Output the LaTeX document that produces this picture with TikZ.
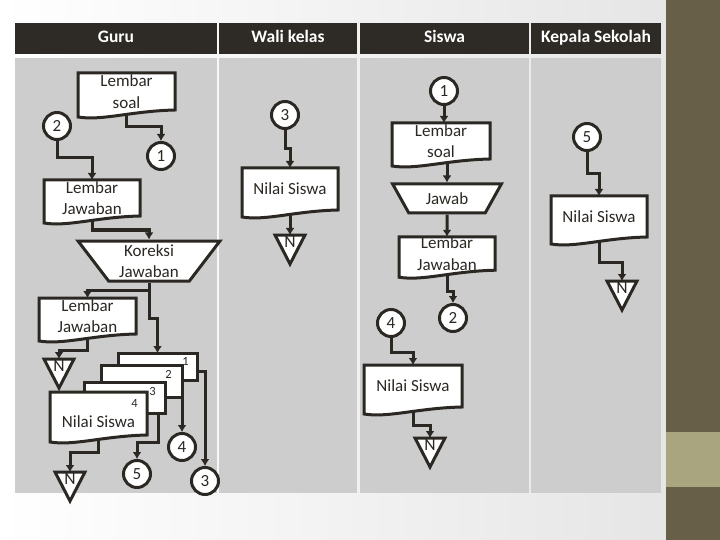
\documentclass[tikz,border=0pt]{standalone}
\usepackage{fontspec}
\setmainfont{Carlito}
\usetikzlibrary{arrows.meta,shapes.geometric,calc}
\definecolor{garistua}{HTML}{2B2823}
\definecolor{kepalabar}{HTML}{2E2A25}
\definecolor{lajurabu}{HTML}{CDCDCD}
\definecolor{pitatua}{HTML}{675F48}
\definecolor{pitamuda}{HTML}{A9A67F}
\pgfdeclarelayer{latar}
\pgfdeclarelayer{garis}
\pgfdeclarelayer{bentuk}
\pgfsetlayers{latar,garis,bentuk,main}
\tikzset{
	judul/.style={
		rectangle,
		fill=kepalabar,
		text=white,
		font=\fontsize{17.5}{21}\selectfont\bfseries,
		minimum height=31pt,
		text height=12.5pt,
		text depth=3.5pt,
		inner sep=0pt
	},
	dokumen/.style={
		rectangle,
		align=center,
		inner sep=0pt,
		outer sep=0pt,
		text=garistua,
		font=\fontsize{17}{21.5}\selectfont
	},
	konektor/.style={
		circle,
		line width=3pt,
		draw=garistua,
		fill=white,
		text=garistua,
		minimum size=27pt,
		inner sep=0pt,
		font=\fontsize{17}{20}\selectfont
	},
	manual/.style={
		trapezium,
		trapezium stretches=true,
		line width=3pt,
		draw=garistua,
		fill=white,
		align=center,
		text=garistua,
		inner sep=0pt,
		font=\fontsize{17}{21.5}\selectfont
	},
	simpan/.style={
		rectangle,
		minimum width=30pt,
		minimum height=29pt,
		inner sep=0pt,
		outer sep=0pt,
		text height=12pt,
		text depth=16pt,
		text=garistua,
		font=\fontsize{17.5}{20}\selectfont
	},
	nomor/.style={
		inner sep=0pt,
		text=garistua,
		font=\fontsize{12.5}{14}\selectfont
	},
	bentuk/.style={
		line width=3pt,
		draw=garistua,
		fill=white
	},
	arrow/.style={
		draw=garistua,
		line width=3pt,
		-{Latex[length=7pt,width=9pt]}
	},
}

\begin{document}
\begin{tikzpicture}[x=1pt,y=-1pt]
	\useasboundingbox (0,0) rectangle (720,540);
	\begin{pgfonlayer}{latar}
		\shade[left color=white,right color=black!10] (0,0) rectangle (666,540);
		\fill[pitatua] (666,0) rectangle (720,540);
		\fill[pitamuda] (666,432) rectangle (720,487);
	\end{pgfonlayer}
	% lajur dan judul
	\foreach \xa/\xb/\nama/\teks in {15/217/guru/Guru,219/357/wali/Wali kelas,360/529/siswa/Siswa,531/661/kepsek/Kepala Sekolah}{
		\begin{pgfonlayer}{latar}
			\fill[lajurabu] (\xa,58) rectangle (\xb,493);
		\end{pgfonlayer}
		\node[judul,minimum width={\xb-\xa}] (h\nama) at ({(\xa+\xb)/2},38.5) {\teks};
	}
	% Guru
	\node[dokumen,minimum width=97pt,minimum height=37pt] (ls1) at (126.5,91.5) {Lembar\\soal};
	\node[konektor] (c2g) at (57,126) {2};
	\node[konektor] (c1g) at (161,156) {1};
	\node[dokumen,minimum width=96pt,minimum height=36pt] (lj1) at (92,198) {Lembar\\Jawaban};
	\node[manual,trapezium left angle=124,trapezium right angle=124,minimum width=142pt,minimum height=40pt] (kj) at (149,261) {Koreksi\\Jawaban};
	\node[dokumen,minimum width=97pt,minimum height=36pt] (lj2) at (87.5,316) {Lembar\\Jawaban};
	\node[simpan] (tg1) at (59,373.5) {N};
	\node[dokumen,minimum width=79pt,minimum height=27pt] (d1) at (157.5,366.5) {};
	\node[dokumen,minimum width=81pt,minimum height=32pt] (d2) at (141.5,381) {};
	\node[dokumen,minimum width=81pt,minimum height=31pt] (d3) at (124.5,397.5) {};
	\node[dokumen,minimum width=97pt,minimum height=43pt,text height=28pt,text depth=0pt] (ns4) at (98.5,413.5) {Nilai Siswa};
	\node[nomor,anchor=north east] (no1) at ([xshift=-8pt,yshift=-4pt]d1.north east) {1};
	\node[nomor,anchor=north east] (no2) at ([xshift=-10pt,yshift=-5pt]d2.north east) {2};
	\node[nomor,anchor=north east] (no3) at ([xshift=-9pt,yshift=-5pt]d3.north east) {3};
	\node[nomor,anchor=north east] (no4) at ([xshift=-9pt,yshift=-7pt]ns4.north east) {4};
	\node[simpan] (tg2) at (70,486.5) {N};
	\node[konektor] (c4g) at (182,447) {4};
	\node[konektor] (c5g) at (137,474) {5};
	\node[konektor] (c3g) at (205,481) {3};
	% Wali kelas
	\node[konektor] (c3w) at (285,115) {3};
	\node[dokumen,minimum width=96pt,minimum height=42pt] (ns1) at (290,189) {Nilai Siswa};
	\node[simpan] (t1) at (290,249.5) {N};
	% Siswa
	\node[konektor] (c1s) at (444,91) {1};
	\node[dokumen,minimum width=98pt,minimum height=36pt] (ls2) at (441,141) {Lembar\\soal};
	\node[manual,trapezium left angle=127,trapezium right angle=127,minimum width=109pt,minimum height=29pt] (jw) at (447,198.5) {Jawab};
	\node[dokumen,minimum width=96pt,minimum height=33pt] (lj3) at (447,253.5) {Lembar\\Jawaban};
	\node[konektor] (c2s) at (453,318) {2};
	\node[konektor] (c4s) at (391,323) {4};
	\node[dokumen,minimum width=98pt,minimum height=42pt] (ns2) at (413,386) {Nilai Siswa};
	\node[simpan] (t2) at (430,452.5) {N};
	% Kepala Sekolah
	\node[konektor] (c5k) at (587,137) {5};
	\node[dokumen,minimum width=96pt,minimum height=41pt] (ns3) at (599,216.5) {Nilai Siswa};
	\node[simpan] (t3) at (622,295.5) {N};
	% bentuk dokumen dan simpanan
	\begin{pgfonlayer}{bentuk}
		\foreach \dk in {d1,d2,d3}
			\filldraw[bentuk] (\dk.north west) rectangle (\dk.south east);
		\foreach \dk in {ls1,lj1,lj2,ns4,ns1,ls2,lj3,ns2,ns3}
			\filldraw[bentuk] (\dk.north west) -- (\dk.north east) -- (\dk.south east)
				.. controls ($(\dk.south east)!0.45!(\dk.south west)+(0,1)$)
				and ($(\dk.south east)!0.75!(\dk.south west)+(0,11)$)
				.. ($(\dk.south west)+(0,7)$) -- cycle;
		\foreach \tg in {tg1,tg2,t1,t2,t3}
			\filldraw[bentuk] (\tg.north west) -- (\tg.north east) -- (\tg.south) -- cycle;
	\end{pgfonlayer}
	% alur
	\begin{pgfonlayer}{garis}
		\draw[arrow] (ls1.south) -- ++(0,17) -| (c1g.north);
		\draw[arrow] (c2g.south) -- ++(0,17) -| (lj1.north);
		\draw[arrow] (lj1.south) -- ++(0,14) -| (kj.north);
		\draw[arrow] (kj.south) -- ++(0,8) -| (lj2.north);
		\draw[arrow] (kj.south) -- ++(0,36) -| (d1.north);
		\draw[arrow] (lj2.south) -- ++(0,16) -| (tg1.north);
		\draw[arrow] ([yshift=-5pt]d1.east) -| (c3g.north);
		\draw[arrow] (d2.south east) -- (c4g.north);
		\draw[arrow] ([xshift=-7pt]d3.south east) -- ++(0,29) -| (c5g.north);
		\draw[arrow] (ns4.south) -- ++(0,17) -| (tg2.north);
		\draw[arrow] (c3w.south) -- ++(0,19) -| (ns1.north);
		\draw[arrow] (ns1.south) -- (t1.north);
		\draw[arrow] (c1s.south) -- (c1s |- ls2.north);
		\draw[arrow] (jw.north |- ls2.south) -- (jw.north);
		\draw[arrow] (jw.south) -- (lj3.north);
		\draw[arrow] (lj3.south) -- ++(0,21) -| (c2s.north);
		\draw[arrow] (c4s.south) -- ++(0,14) -| (ns2.north);
		\draw[arrow] (ns2.south) -- ++(0,18) -| (t2.north);
		\draw[arrow] (c5k.south) -- ++(0,22) -| (ns3.north);
		\draw[arrow] (ns3.south) -- ++(0,25) -| (t3.north);
	\end{pgfonlayer}
\end{tikzpicture}
\end{document}
